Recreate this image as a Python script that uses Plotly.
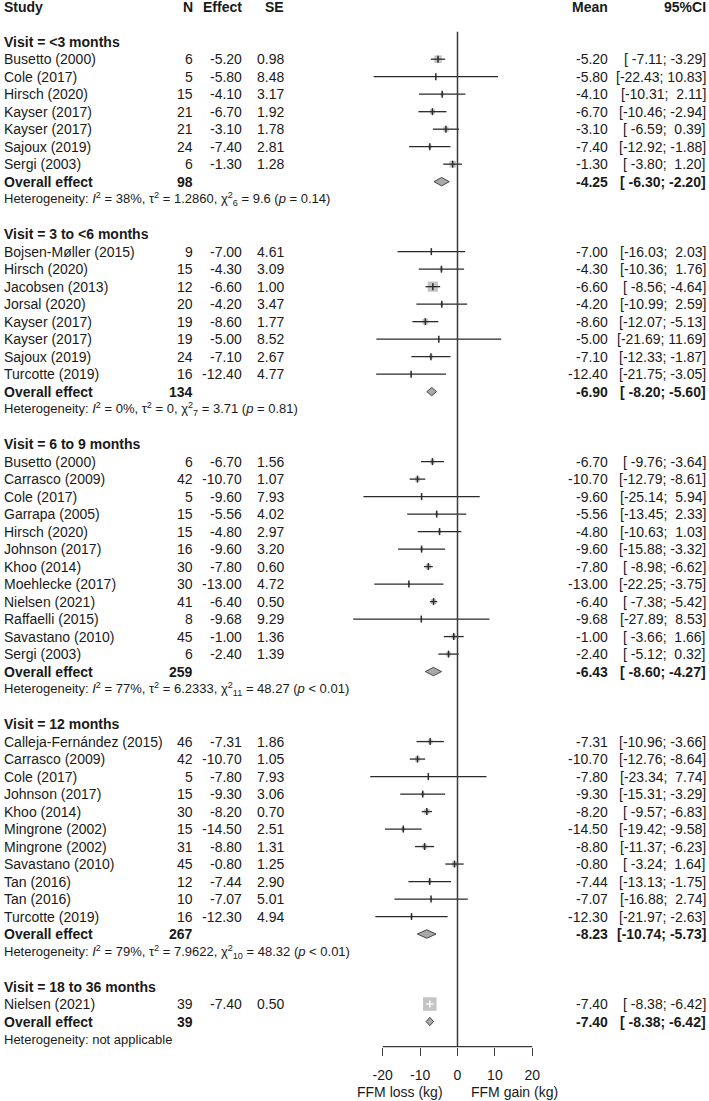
import math
import plotly.graph_objects as go

# ---------------- data ----------------
study = [
    "Busetto (2000)", "Cole (2017)", "Hirsch (2020)", "Kayser (2017)", "Kayser (2017)", "Sajoux (2019)", "Sergi (2003)",
    "Bojsen-Møller (2015)", "Hirsch (2020)", "Jacobsen (2013)", "Jorsal (2020)", "Kayser (2017)", "Kayser (2017)",
    "Sajoux (2019)", "Turcotte (2019)",
    "Busetto (2000)", "Carrasco (2009)", "Cole (2017)", "Garrapa (2005)", "Hirsch (2020)", "Johnson (2017)",
    "Khoo (2014)", "Moehlecke (2017)", "Nielsen (2021)", "Raffaelli (2015)", "Savastano (2010)", "Sergi (2003)",
    "Calleja-Fernández (2015)", "Carrasco (2009)", "Cole (2017)", "Johnson (2017)", "Khoo (2014)", "Mingrone (2002)",
    "Mingrone (2002)", "Savastano (2010)", "Tan (2016)", "Tan (2016)", "Turcotte (2019)",
    "Nielsen (2021)",
]
group = [0] * 7 + [1] * 8 + [2] * 12 + [3] * 11 + [4] * 1
n_obs = [6, 5, 15, 21, 21, 24, 6,
         9, 15, 12, 20, 19, 19, 24, 16,
         6, 42, 5, 15, 15, 16, 30, 30, 41, 8, 45, 6,
         46, 42, 5, 15, 30, 15, 31, 45, 12, 10, 16,
         39]
effect = [-5.20, -5.80, -4.10, -6.70, -3.10, -7.40, -1.30,
          -7.00, -4.30, -6.60, -4.20, -8.60, -5.00, -7.10, -12.40,
          -6.70, -10.70, -9.60, -5.56, -4.80, -9.60, -7.80, -13.00, -6.40, -9.68, -1.00, -2.40,
          -7.31, -10.70, -7.80, -9.30, -8.20, -14.50, -8.80, -0.80, -7.44, -7.07, -12.30,
          -7.40]
se = [0.98, 8.48, 3.17, 1.92, 1.78, 2.81, 1.28,
      4.61, 3.09, 1.00, 3.47, 1.77, 8.52, 2.67, 4.77,
      1.56, 1.07, 7.93, 4.02, 2.97, 3.20, 0.60, 4.72, 0.50, 9.29, 1.36, 1.39,
      1.86, 1.05, 7.93, 3.06, 0.70, 2.51, 1.31, 1.25, 2.90, 5.01, 4.94,
      0.50]
ci_low = [-7.11, -22.43, -10.31, -10.46, -6.59, -12.92, -3.80,
          -16.03, -10.36, -8.56, -10.99, -12.07, -21.69, -12.33, -21.75,
          -9.76, -12.79, -25.14, -13.45, -10.63, -15.88, -8.98, -22.25, -7.38, -27.89, -3.66, -5.12,
          -10.96, -12.76, -23.34, -15.31, -9.57, -19.42, -11.37, -3.24, -13.13, -16.88, -21.97,
          -8.38]
ci_high = [-3.29, 10.83, 2.11, -2.94, 0.39, -1.88, 1.20,
           2.03, 1.76, -4.64, 2.59, -5.13, 11.69, -1.87, -3.05,
           -3.64, -8.61, 5.94, 2.33, 1.03, -3.32, -6.62, -3.75, -5.42, 8.53, 1.66, 0.32,
           -3.66, -8.64, 7.74, -3.29, -6.83, -9.58, -6.23, 1.64, -1.75, 2.74, -2.63,
           -6.42]

sub_label = ["&lt;3 months", "3 to &lt;6 months", "6 to 9 months", "12 months", "18 to 36 months"]
sub_n = [98, 134, 259, 267, 39]
sub_mean = [-4.25, -6.90, -6.43, -8.23, -7.40]
sub_low = [-6.30, -8.20, -8.60, -10.74, -8.38]
sub_high = [-2.20, -5.60, -4.27, -5.73, -6.42]
het_i2 = ["38%", "0%", "77%", "79%", None]
het_tau2 = ["1.2860", "0", "6.2333", "7.9622", None]
het_df = ["6", "7", "11", "10", None]
het_q = ["9.6", "3.71", "48.27", "48.32", None]
het_p = ["= 0.14", "= 0.81", "&lt; 0.01", "&lt; 0.01", None]

x_ticks = [-20, -10, 0, 10, 20]
label_left = "FFM loss (kg)"
label_right = "FFM gain (kg)"

# ---------------- geometry ----------------
W, H = 709, 1101
PX0, PXU = 457.5, 3.74          # pixel of x=0, pixels per unit
ROW0, ROWH = 6.7, 17.497        # pixel of row 0, row height
FONT = "Liberation Sans, Arial, sans-serif"
TXT = "#1a1a1a"
LINE = "#2a2a2a"
SQ = "#ababab"
BOX_MAX = 13.5

xr = [-PX0 / PXU, (W - PX0) / PXU]
yr = [(H - ROW0) / ROWH, -ROW0 / ROWH]
axis_row = (1046.7 - ROW0) / ROWH

col_study, col_n, col_eff, col_se, col_mean, col_ci = 3, 194, 243, 285, 608.5, 707

anns = []


def txt(px, row, s, anchor="left", bold=False, size=14):
    if bold:
        s = "<b>" + s + "</b>"
    anns.append(dict(x=px / W, xref="paper", y=row, yref="y", text=s, showarrow=False,
                     xanchor=anchor, yanchor="middle", borderpad=0,
                     font=dict(family=FONT, size=size, color=TXT)))


def fmt_ci(lo, hi):
    return ("[%6.2f; %5.2f]" % (lo, hi)).replace(" ", "\u00a0")


# header
txt(col_study, 0, "Study", bold=True)
txt(col_n, 0, "N", "right", bold=True)
txt(col_eff, 0, "Effect", "right", bold=True)
txt(col_se, 0, "SE", "right", bold=True)
txt(col_mean, 0, "Mean", "right", bold=True)
txt(col_ci, 0, "95%CI", "right", bold=True)

ci_x, ci_y = [], []
ci_x_w, ci_y_w = [], []
sq_x, sq_y, sq_s = [], [], []
tk_x, tk_y, tk_c = [], [], []
diamonds = []

row = 2
for g in range(len(sub_label)):
    txt(col_study, row, "Visit = " + sub_label[g], bold=True)
    row += 1
    idx = [i for i in range(len(study)) if group[i] == g]
    tau2 = float(het_tau2[g]) if het_tau2[g] is not None else 0.0
    w = [1.0 / (se[i] ** 2 + tau2) for i in idx]
    wsum = sum(w)
    for k, i in enumerate(idx):
        txt(col_study, row, study[i])
        txt(col_n, row, str(n_obs[i]), "right")
        txt(col_eff, row, "%.2f" % effect[i], "right")
        txt(col_se, row, "%.2f" % se[i], "right")
        txt(col_mean, row, "%.2f" % effect[i], "right")
        txt(col_ci, row, fmt_ci(ci_low[i], ci_high[i]), "right")
        size = BOX_MAX * math.sqrt(w[k] / wsum)
        inside = (ci_high[i] - ci_low[i]) * PXU < size
        sq_x.append(effect[i]); sq_y.append(row); sq_s.append(size)
        if inside:
            ci_x_w += [ci_low[i], ci_high[i], None]; ci_y_w += [row, row, None]
        else:
            ci_x += [ci_low[i], ci_high[i], None]; ci_y += [row, row, None]
        tk_x.append(effect[i]); tk_y.append(row); tk_c.append("white" if inside else LINE)
        row += 1
    # overall
    txt(col_study, row, "Overall effect", bold=True)
    txt(col_n, row, str(sub_n[g]), "right", bold=True)
    txt(col_mean, row, "%.2f" % sub_mean[g], "right", bold=True)
    txt(col_ci, row, fmt_ci(sub_low[g], sub_high[g]), "right", bold=True)
    diamonds.append((sub_low[g], sub_mean[g], sub_high[g], row))
    row += 1
    if het_i2[g] is None:
        het = "Heterogeneity: not applicable"
    else:
        het = ("Heterogeneity: <i>I</i><sup>2</sup> = %s, τ<sup>2</sup> = %s, "
               "χ<sup>2</sup><sub>%s</sub> = %s (<i>p</i> %s)"
               % (het_i2[g], het_tau2[g], het_df[g], het_q[g], het_p[g]))
    txt(col_study, row, het, size=13)
    row += 2

fig = go.Figure()

fig.add_trace(go.Scatter(x=sq_x, y=sq_y, mode="markers",
                         marker=dict(symbol="square", size=sq_s, color=SQ, line=dict(width=0)),
                         hoverinfo="skip", showlegend=False))
fig.add_trace(go.Scatter(x=ci_x, y=ci_y, mode="lines", line=dict(color=LINE, width=1.3),
                         hoverinfo="skip", showlegend=False))
fig.add_trace(go.Scatter(x=ci_x_w, y=ci_y_w, mode="lines", line=dict(color="white", width=1.3),
                         hoverinfo="skip", showlegend=False))
fig.add_trace(go.Scatter(x=tk_x, y=tk_y, mode="markers",
                         marker=dict(symbol="line-ns", size=5, line=dict(color=tk_c, width=1.5)),
                         hoverinfo="skip", showlegend=False))

dh = 4.2 / ROWH
for lo, m, hi, r in diamonds:
    fig.add_trace(go.Scatter(x=[lo, m, hi, m, lo], y=[r, r - dh, r, r + dh, r], mode="lines",
                             fill="toself", fillcolor="#a9a9a9", line=dict(color="#444444", width=1),
                             hoverinfo="skip", showlegend=False))

shapes = [
    dict(type="line", xref="x", yref="y", x0=0, x1=0, y0=(31.7 - ROW0) / ROWH, y1=axis_row,
         line=dict(color="#3a3a3a", width=1.5)),
    dict(type="line", xref="x", yref="y", x0=x_ticks[0], x1=x_ticks[-1], y0=axis_row, y1=axis_row,
         line=dict(color="#3a3a3a", width=1.3)),
]

anns.append(dict(x=399.5 / W, xref="paper", y=(1092 - ROW0) / ROWH, yref="y", text=label_left,
                 showarrow=False, xanchor="center", yanchor="middle",
                 font=dict(family=FONT, size=14, color=TXT)))
anns.append(dict(x=514 / W, xref="paper", y=(1092 - ROW0) / ROWH, yref="y", text=label_right,
                 showarrow=False, xanchor="center", yanchor="middle",
                 font=dict(family=FONT, size=14, color=TXT)))

fig.update_layout(
    width=W, height=H, margin=dict(l=0, r=0, t=0, b=0),
    paper_bgcolor="white", plot_bgcolor="white",
    shapes=shapes, annotations=anns,
    xaxis=dict(range=xr, tickvals=x_ticks, ticktext=[str(v) for v in x_ticks],
               ticks="outside", ticklen=8, tickwidth=1.3, tickcolor="#3a3a3a",
               showline=False, showgrid=False, zeroline=False,
               anchor="free", position=(H - 1046.7) / H, ticklabelstandoff=7,
               tickfont=dict(family=FONT, size=14, color=TXT)),
    yaxis=dict(range=yr, visible=False, showgrid=False, zeroline=False),
)

fig.write_html("out.html", config={"displayModeBar": False},
               post_script="document.body.style.margin='0';document.body.style.overflow='hidden';")
